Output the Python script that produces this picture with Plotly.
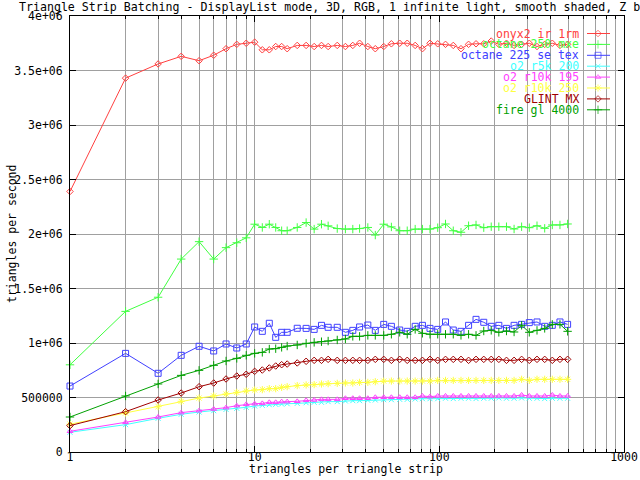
import plotly.graph_objects as go

# ---------------- data ----------------
strip_len = [1, 2, 3, 4, 5, 6, 7, 8, 9, 10, 11, 12, 13, 14, 15, 17, 19, 21, 23, 25,
             28, 31, 34, 37, 41, 45, 50, 55, 61, 67, 74, 81, 89, 98, 108, 119, 131,
             144, 158, 174, 191, 210, 231, 254, 279, 307, 338, 372, 409, 450, 495]

onyx2_ir_1rm = [2390000, 3430000, 3560000, 3630000, 3590000, 3640000, 3700000, 3740000,
                3750000, 3760000, 3690000, 3690000, 3720000, 3720000, 3700000, 3730000,
                3730000, 3720000, 3730000, 3720000, 3730000, 3720000, 3730000, 3750000,
                3720000, 3700000, 3720000, 3745000, 3750000, 3750000, 3730000, 3700000,
                3750000, 3745000, 3740000, 3730000, 3700000, 3740000, 3745000, 3745000,
                3770000, 3740000, 3750000, 3730000, 3740000, 3750000, 3720000, 3740000,
                3750000, 3730000, 3740000]

octane_250_mxe = [800000, 1290000, 1420000, 1770000, 1930000, 1770000, 1875000, 1920000,
                  1965000, 2090000, 2060000, 2090000, 2060000, 2030000, 2030000, 2060000,
                  2105000, 2045000, 2090000, 2075000, 2050000, 2045000, 2045000, 2050000,
                  2060000, 1990000, 2090000, 2065000, 2030000, 2030000, 2045000, 2045000,
                  2045000, 2058000, 2092000, 2030000, 2016000, 2076000, 2083000, 2058000,
                  2067000, 2067000, 2067000, 2046000, 2067000, 2058000, 2076000, 2052000,
                  2083000, 2083000, 2092000]

octane_225_se_tex = [605000, 905000, 722000, 887000, 970000, 927000, 991000, 954000,
                     991000, 1147000, 1107000, 1181000, 1052000, 1098000, 1098000, 1135000,
                     1134000, 1125000, 1162000, 1144000, 1144000, 1098000, 1116000, 1147000,
                     1165000, 1116000, 1171000, 1153000, 1119000, 1107000, 1153000, 1162000,
                     1134000, 1125000, 1193000, 1119000, 1107000, 1162000, 1217000, 1190000,
                     1153000, 1162000, 1134000, 1162000, 1171000, 1187000, 1193000, 1153000,
                     1162000, 1193000, 1171000]

o2_r5k_200 = [181000, 251000, 309000, 346000, 367000, 379000, 391000, 401000, 410000,
              422000, 428000, 434000, 437000, 440000, 443000, 446000, 452000, 456000,
              456000, 462000, 462000, 468000, 471000, 471000, 474000, 477000, 480000,
              480000, 483000, 483000, 486000, 489000, 489000, 489000, 493000, 490000,
              493000, 493000, 490000, 493000, 493000, 496000, 493000, 493000, 496000,
              493000, 493000, 490000, 493000, 493000, 493000]

o2_r10k_195 = [190000, 272000, 321000, 361000, 379000, 394000, 407000, 425000, 437000,
               443000, 446000, 456000, 456000, 462000, 462000, 465000, 474000, 477000,
               483000, 483000, 483000, 493000, 493000, 493000, 493000, 502000, 502000,
               502000, 502000, 502000, 502000, 514000, 508000, 514000, 514000, 514000,
               514000, 514000, 514000, 514000, 514000, 514000, 514000, 514000, 523000,
               514000, 514000, 514000, 523000, 514000, 514000]

o2_r10k_250 = [255000, 358000, 416000, 465000, 495000, 514000, 532000, 547000, 560000,
               569000, 572000, 581000, 581000, 593000, 599000, 609000, 615000, 618000,
               624000, 627000, 630000, 633000, 633000, 639000, 639000, 645000, 651000,
               651000, 651000, 651000, 651000, 651000, 651000, 657000, 657000, 657000,
               657000, 657000, 657000, 657000, 657000, 657000, 657000, 657000, 667000,
               657000, 667000, 667000, 667000, 667000, 667000]

glint_mx = [242000, 370000, 477000, 541000, 599000, 633000, 670000, 697000, 713000,
            740000, 752000, 771000, 789000, 801000, 807000, 817000, 832000, 841000,
            841000, 850000, 841000, 841000, 841000, 841000, 841000, 850000, 850000,
            841000, 850000, 841000, 841000, 841000, 850000, 841000, 850000, 850000,
            850000, 841000, 850000, 850000, 850000, 850000, 841000, 841000, 850000,
            841000, 850000, 850000, 841000, 850000, 850000]

fire_gl_4000 = [321000, 514000, 624000, 703000, 749000, 795000, 835000, 859000, 887000,
                905000, 914000, 945000, 948000, 960000, 972000, 982000, 997000, 1006000,
                1012000, 1018000, 1028000, 1037000, 1061000, 1061000, 1070000, 1070000,
                1070000, 1080000, 1098000, 1080000, 1125000, 1089000, 1080000, 1080000,
                1080000, 1080000, 1070000, 1080000, 1070000, 1110000, 1116000, 1098000,
                1110000, 1101000, 1162000, 1098000, 1116000, 1134000, 1171000, 1171000,
                1107000]

series_names = ["onyx2 ir 1rm", "octane 250 mxe", "octane 225 se tex", "o2 r5k 200",
                "o2 r10k 195", "o2 r10k 250", "GLINT MX", "fire gl 4000"]
series_values = [onyx2_ir_1rm, octane_250_mxe, octane_225_se_tex, o2_r5k_200,
                 o2_r10k_195, o2_r10k_250, glint_mx, fire_gl_4000]

y_tick_vals = [0, 500000, 1000000, 1500000, 2000000, 2500000, 3000000, 3500000, 4000000]
y_tick_text = ["0", "500000", "1e+06", "1.5e+06", "2e+06", "2.5e+06", "3e+06", "3.5e+06", "4e+06"]
x_tick_vals = [1, 10, 100, 1000]
x_tick_text = ["1", "10", "100", "1000"]
x_minor_vals = [2, 3, 4, 5, 6, 7, 8, 9, 20, 30, 40, 50, 60, 70, 80, 90,
                200, 300, 400, 500, 600, 700, 800, 900]

title_text = "Triangle Strip Batching - DisplayList mode, 3D, RGB, 1 infinite light, smooth shaded, Z buffered"
x_title = "triangles per triangle strip"
y_title = "triangles per second"

# ---------------- styles ----------------
colors = ["#ff4040", "#40ff40", "#4040ff", "#40ffff", "#ff40ff", "#ffff40", "#a00000", "#00a000"]
symbols = ["diamond-open", "cross-thin-open", "square-open", "x-thin-open",
           "triangle-up-open", "asterisk-open", "diamond-open", "cross-thin-open"]
sizes = [5, 6, 6, 5, 5, 6, 5, 6]
FONT = "DejaVu Sans Mono"
FS = 11.5
GRID = "#a0a0a0"

# plot area in pixels
PL, PR, PT, PB = 70, 624, 16, 452


def px(xp):
    return (xp - PL) / (PR - PL)


def py(yp):
    return (PB - yp) / (PB - PT)


fig = go.Figure()
for name, vals, col, sym, sz in zip(series_names, series_values, colors, symbols, sizes):
    fig.add_trace(go.Scatter(
        x=strip_len, y=vals, name=name, mode="lines+markers",
        line=dict(color=col, width=1),
        marker=dict(symbol=sym, size=sz, color=col, line=dict(color=col, width=1)),
        cliponaxis=False, showlegend=False, hoverinfo="skip"))

# custom gnuplot-style key (text right-aligned, sample on the right), pixel coords on overlay axes
key_top = 33.5
key_step = 10.9
for i, (name, col, sym, sz) in enumerate(zip(series_names, colors, symbols, sizes)):
    ky = key_top + i * key_step
    fig.add_trace(go.Scatter(
        x=[587, 598, 610], y=[ky, ky, ky], xaxis="x2", yaxis="y2", mode="lines+markers",
        line=dict(color=col, width=1),
        marker=dict(symbol=sym, size=[0, sz, 0], color=col, line=dict(color=col, width=[0, 1, 0])),
        cliponaxis=False, showlegend=False, hoverinfo="skip"))
    fig.add_annotation(x=px(581), y=py(ky), xref="paper", yref="paper", text=name, showarrow=False,
                       xanchor="right", yanchor="middle",
                       font=dict(family=FONT, size=FS, color=col))

fig.add_annotation(x=px(17), y=py(7), xref="paper", yref="paper", text=title_text, showarrow=False,
                   xanchor="left", yanchor="middle", font=dict(family=FONT, size=11.6, color="black"))
fig.add_annotation(x=px(346), y=py(469), xref="paper", yref="paper", text=x_title, showarrow=False,
                   xanchor="center", yanchor="middle", font=dict(family=FONT, size=FS, color="black"))
fig.add_annotation(x=px(12), y=py(234), xref="paper", yref="paper", text=y_title, showarrow=False,
                   textangle=-90, xanchor="center", yanchor="middle",
                   font=dict(family=FONT, size=FS, color="black"))

fig.update_layout(
    width=640, height=480,
    margin=dict(l=PL, r=640 - PR, t=PT, b=480 - PB, pad=0),
    paper_bgcolor="white", plot_bgcolor="white",
    font=dict(family=FONT, size=FS, color="black"),
    xaxis=dict(type="log", range=[0, 3], tickvals=x_tick_vals, ticktext=x_tick_text,
               ticks="inside", ticklen=6, tickcolor="black", tickwidth=1,
               showgrid=True, gridcolor=GRID, gridwidth=1,
               minor=dict(tickvals=x_minor_vals, ticks="inside", ticklen=3, tickcolor="black",
                          showgrid=True, gridcolor=GRID, gridwidth=1),
               showline=True, linecolor="black", linewidth=1, mirror="allticks",
               zeroline=False, ticklabelstandoff=-6, tickfont=dict(family=FONT, size=FS),
               automargin=False),
    yaxis=dict(range=[0, 4000000], tickvals=y_tick_vals, ticktext=y_tick_text,
               ticks="inside", ticklen=6, tickcolor="black", tickwidth=1,
               showgrid=True, gridcolor=GRID, gridwidth=1,
               showline=True, linecolor="black", linewidth=1, mirror="allticks",
               zeroline=False, ticklabelstandoff=4, tickfont=dict(family=FONT, size=FS),
               automargin=False),
    xaxis2=dict(overlaying="x", range=[PL, PR], visible=False, fixedrange=True),
    yaxis2=dict(overlaying="y", range=[PB, PT], visible=False, fixedrange=True),
)

fig.write_html("out.html", config={"displayModeBar": False, "staticPlot": True},
               post_script="document.body.style.margin='0';document.body.style.padding='0';")
